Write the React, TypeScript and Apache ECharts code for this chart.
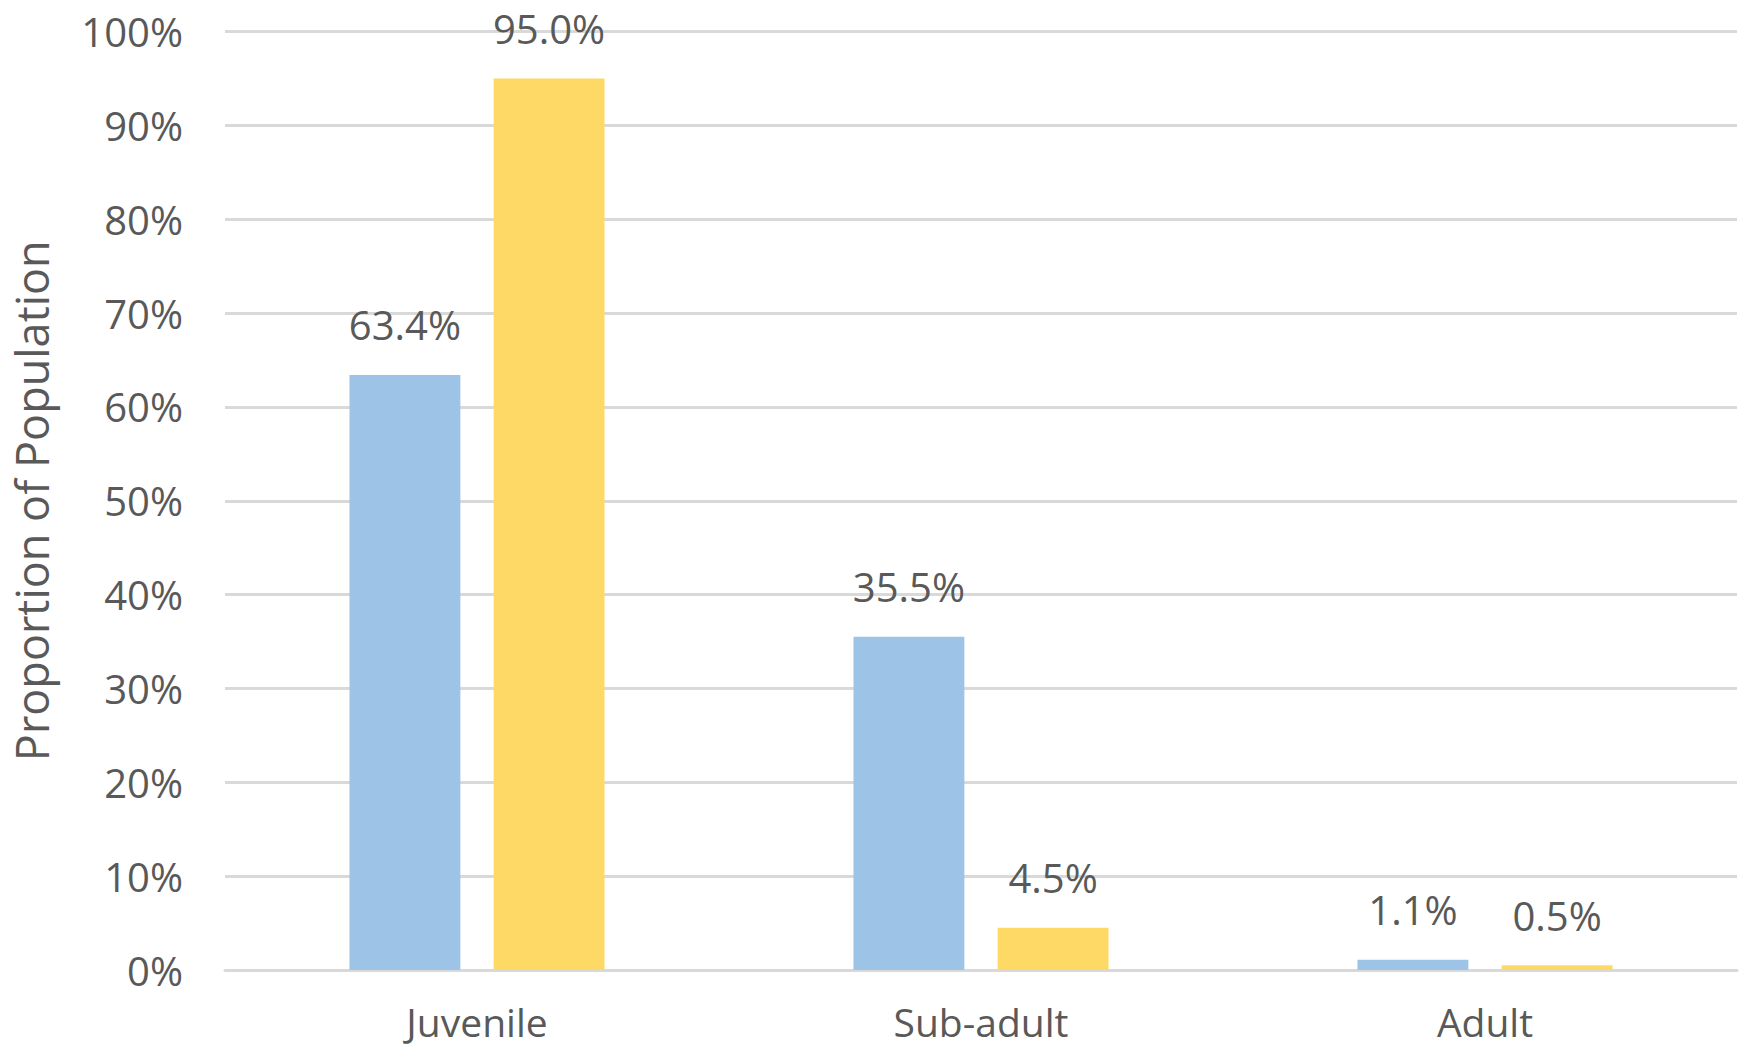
import React, { useEffect, useRef } from "react";
import * as echarts from "echarts";

// Age-class breakdown, two groups compared side by side
const stages = ["Juvenile", "Sub-adult", "Adult"];
const seriesA = [63.4, 35.5, 1.1];
const seriesB = [95.0, 4.5, 0.5];
const yTicks = { min: 0, max: 100, interval: 10 };

const FONT = "'Open Sans', sans-serif";
const TEXT = "#595959";
const GRID = "#D9D9D9";

export default function App() {
  const ref = useRef<HTMLDivElement>(null);

  useEffect(() => {
    document.body.style.margin = "0";
    const chart = echarts.init(ref.current!, null, { renderer: "svg" });
    const label = {
      show: true,
      position: "top" as const,
      distance: 30,
      color: TEXT,
      fontFamily: FONT,
      fontSize: 40,
      formatter: (p: any) => `${Number(p.value).toFixed(1)}%`,
    };
    chart.setOption({
      animation: false,
      backgroundColor: "#ffffff",
      textStyle: { fontFamily: FONT },
      grid: { left: 225, right: 9, top: 31.5, bottom: 80, containLabel: false },
      xAxis: {
        type: "category",
        data: stages,
        axisLine: { show: true, lineStyle: { color: GRID, width: 3 } },
        axisTick: { show: false },
        axisLabel: {
          color: TEXT,
          fontSize: 39,
          lineHeight: 36,
          fontFamily: FONT,
          margin: 33,
        },
      },
      yAxis: {
        type: "value",
        min: yTicks.min,
        max: yTicks.max,
        interval: yTicks.interval,
        name: "Proportion of Population",
        nameLocation: "middle",
        nameGap: 171,
        nameTextStyle: { color: TEXT, fontSize: 45, fontFamily: FONT },
        axisLine: { show: false },
        axisTick: { show: false },
        axisLabel: {
          color: TEXT,
          fontSize: 40,
          fontFamily: FONT,
          margin: 42,
          formatter: "{value}%",
        },
        splitLine: { lineStyle: { color: GRID, width: 3 } },
      },
      series: [
        {
          type: "bar",
          data: seriesA,
          barWidth: "22%",
          barGap: "30%",
          itemStyle: { color: "#9DC3E6" },
          label,
        },
        {
          type: "bar",
          data: seriesB,
          barWidth: "22%",
          itemStyle: { color: "#FFD966" },
          label,
        },
      ],
    });
    return () => chart.dispose();
  }, []);

  return (
    <div
      ref={ref}
      style={{ position: "absolute", left: 0, top: 0, width: 1746, height: 1050 }}
    />
  );
}
